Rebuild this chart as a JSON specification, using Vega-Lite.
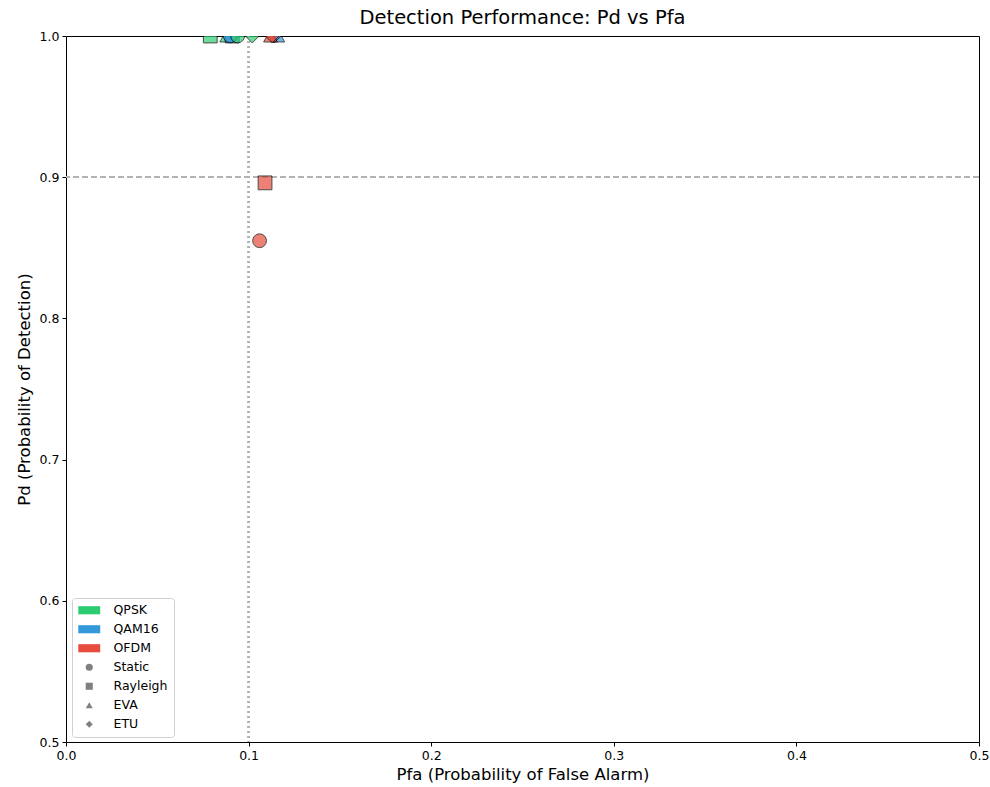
{
  "$schema": "https://vega.github.io/schema/vega-lite/v6.json",
  "width": 913,
  "height": 706,
  "autosize": {"type": "none"},
  "padding": {"left": 66, "top": 36, "right": 11, "bottom": 45},
  "background": "white",
  "title": {"text": "Detection Performance: Pd vs Pfa", "fontSize": 19.5, "fontWeight": "normal", "font": "DejaVu Sans", "color": "black", "offset": 2},
  "config": {
    "view": {"stroke": "black", "strokeWidth": 1},
    "font": "DejaVu Sans",
    "axis": {"labelFont": "DejaVu Sans", "titleFont": "DejaVu Sans", "labelFontSize": 12.5, "titleFontSize": 16.5, "titleFontWeight": "normal", "labelColor": "black", "titleColor": "black", "gridColor": "#ebebeb", "domain": false, "tickColor": "black", "tickSize": 4, "labelPadding": 3, "labelFlush": false}
  },
  "datasets": {
    "points": [
      {"modulation": "QPSK", "channel": "Rayleigh", "pfa": 0.079, "pd": 1.0},
      {"modulation": "QPSK", "channel": "EVA", "pfa": 0.088, "pd": 1.0},
      {"modulation": "QAM16", "channel": "Rayleigh", "pfa": 0.091, "pd": 1.0},
      {"modulation": "QAM16", "channel": "Static", "pfa": 0.090, "pd": 1.0},
      {"modulation": "QPSK", "channel": "Static", "pfa": 0.094, "pd": 1.0},
      {"modulation": "QPSK", "channel": "ETU", "pfa": 0.102, "pd": 1.0},
      {"modulation": "QAM16", "channel": "EVA", "pfa": 0.116, "pd": 1.0},
      {"modulation": "QAM16", "channel": "ETU", "pfa": 0.114, "pd": 1.0},
      {"modulation": "OFDM", "channel": "EVA", "pfa": 0.112, "pd": 1.0},
      {"modulation": "OFDM", "channel": "ETU", "pfa": 0.113, "pd": 1.0},
      {"modulation": "OFDM", "channel": "Rayleigh", "pfa": 0.109, "pd": 0.896},
      {"modulation": "OFDM", "channel": "Static", "pfa": 0.106, "pd": 0.855}
    ],
    "legendkeys": [
      {"key": "QPSK"}, {"key": "QAM16"}, {"key": "OFDM"},
      {"key": "Static"}, {"key": "Rayleigh"}, {"key": "EVA"}, {"key": "ETU"}
    ]
  },
  "resolve": {"scale": {"color": "independent", "shape": "independent"}, "legend": {"color": "independent", "shape": "independent"}},
  "layer": [
    {
      "data": {"name": "points"},
      "mark": {"type": "rule", "color": "#b3b3b3", "strokeDash": [6, 3], "strokeWidth": 1.5},
      "encoding": {"y": {"datum": 0.9, "type": "quantitative"}}
    },
    {
      "data": {"name": "points"},
      "mark": {"type": "rule", "color": "#b3b3b3", "strokeDash": [2, 3], "strokeWidth": 1.5},
      "encoding": {"x": {"datum": 0.1, "type": "quantitative"}}
    },
    {
      "data": {"name": "points"},
      "mark": {"type": "point", "filled": true, "opacity": 0.7, "stroke": "black", "strokeWidth": 1, "clip": true, "size": 190},
      "encoding": {
        "x": {"field": "pfa", "type": "quantitative", "scale": {"domain": [0, 0.5], "nice": false, "zero": false},
              "axis": {"title": "Pfa (Probability of False Alarm)", "format": ".1f", "values": [0, 0.1, 0.2, 0.3, 0.4, 0.5], "titlePadding": 5, "labelFontSize": 12.5, "labelFlush": false}},
        "y": {"field": "pd", "type": "quantitative", "scale": {"domain": [0.5, 1.0], "nice": false, "zero": false},
              "axis": {"title": "Pd (Probability of Detection)", "format": ".1f", "values": [0.5, 0.6, 0.7, 0.8, 0.9, 1.0], "titlePadding": 7, "labelFontSize": 12.5, "labelFlush": false}},
        "color": {"field": "modulation", "type": "nominal",
                  "scale": {"domain": ["QPSK", "QAM16", "OFDM"], "range": ["#2ecc71", "#3498db", "#e74c3c"]},
                  "legend": null},
        "shape": {"field": "channel", "type": "nominal",
                  "scale": {"domain": ["Static", "Rayleigh", "EVA", "ETU"], "range": ["circle", "square", "triangle-up", "diamond"]},
                  "legend": null}
      }
    },
    {
      "data": {"name": "legendkeys"},
      "transform": [{"filter": "false"}],
      "mark": {"type": "point", "filled": true, "opacity": 1, "strokeWidth": 0},
      "encoding": {
        "color": {"field": "key", "type": "nominal",
                  "scale": {"domain": ["QPSK", "QAM16", "OFDM", "Static", "Rayleigh", "EVA", "ETU"], "range": ["#2ecc71", "#3498db", "#e74c3c", "#808080", "#808080", "#808080", "#808080"]},
                  "legend": {"title": null, "orient": "none", "legendX": 6, "legendY": 562, "symbolSize": 50, "symbolOpacity": 1, "symbolStrokeWidth": 0, "symbolOffset": 5, "labelFontSize": 12.5, "labelFont": "DejaVu Sans", "labelColor": "black", "labelOffset": 18, "rowPadding": 6, "padding": 6, "fillColor": "white", "strokeColor": "#d0d0d0", "cornerRadius": 3}},
        "shape": {"field": "key", "type": "nominal",
                  "scale": {"domain": ["QPSK", "QAM16", "OFDM", "Static", "Rayleigh", "EVA", "ETU"], "range": ["M-3.1,-1.15H3.1V1.15H-3.1Z", "M-3.1,-1.15H3.1V1.15H-3.1Z", "M-3.1,-1.15H3.1V1.15H-3.1Z", "circle", "square", "triangle-up", "diamond"]},
                  "legend": {"title": null, "orient": "none", "legendX": 6, "legendY": 562, "symbolSize": 50, "symbolOpacity": 1, "symbolStrokeWidth": 0, "symbolOffset": 5, "labelFontSize": 12.5, "labelFont": "DejaVu Sans", "labelColor": "black", "labelOffset": 18, "rowPadding": 6, "padding": 6, "fillColor": "white", "strokeColor": "#d0d0d0", "cornerRadius": 3}}
      }
    }
  ]
}
